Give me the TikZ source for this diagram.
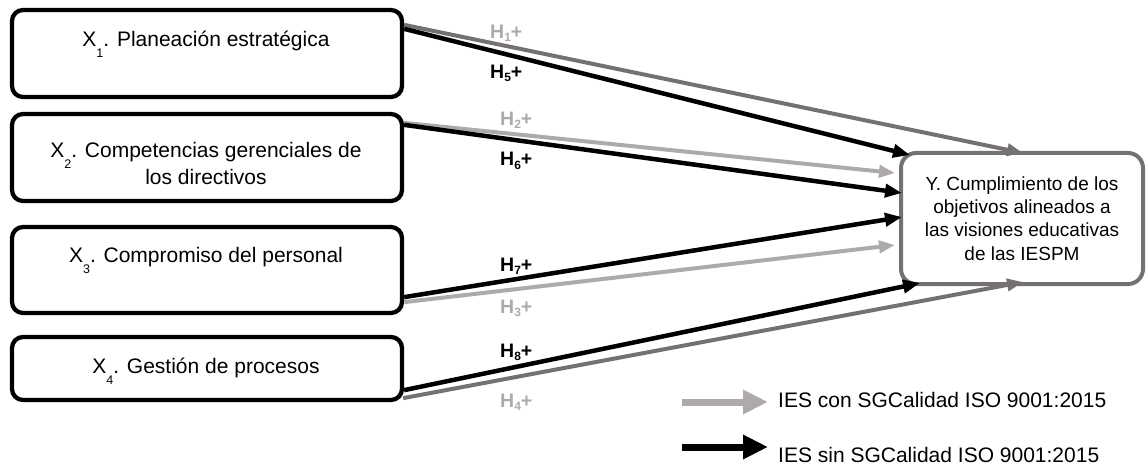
\documentclass[tikz,border=0pt]{standalone}
\usepackage{fontspec}
\setmainfont{Liberation Sans}
\usetikzlibrary{arrows.meta,calc}

\definecolor{darkgr}{HTML}{767171}
\definecolor{lightgr}{HTML}{AEAAAA}

% small lowered index after X
\newcommand\xidx[1]{\raisebox{-11pt}{\fontsize{12.5}{12.5}\selectfont #1}}
% hypothesis label index
\newcommand\hidx[1]{\raisebox{-3pt}{\fontsize{12}{12}\selectfont #1}}

\tikzset{
  xbox/.style={draw=black, line width=4.3pt, rounded corners=11pt, fill=white,
    minimum width=390pt, inner sep=0pt},
  ybox/.style={draw=darkgr, line width=4pt, rounded corners=15pt, fill=white,
    minimum width=242pt, minimum height=131pt, inner sep=0pt,
    align=center, font=\fontsize{19}{23.3}\selectfont},
  btxt/.style={font=\fontsize{21}{27}\selectfont, align=center, inner sep=0pt, anchor=base},
  hlab/.style={font=\bfseries\fontsize{19.5}{19.5}\selectfont, inner sep=0pt, anchor=base west},
  hlight/.style={hlab, text=lightgr},
  hdark/.style={hlab, text=black},
  blkarr/.style={draw=black, line width=4.5pt, -{Triangle[length=17pt,width=13pt]}},
  lgtarr/.style={draw=lightgr, line width=4pt, -{Triangle[length=16pt,width=12pt]}},
  drkarr/.style={draw=darkgr, line width=4pt, -{Triangle[length=16pt,width=12pt]}},
  legtxt/.style={font=\fontsize{21}{21}\selectfont, inner sep=0pt, anchor=base west},
}

\begin{document}
\begin{tikzpicture}[x=1pt,y=-1pt]
\useasboundingbox (0,0) rectangle (1146,468);

% predictor boxes
\node[xbox, minimum height=87pt] (b1) at (207,53.5) {};
\node[xbox, minimum height=87pt] (b2) at (207,157.5) {};
\node[xbox, minimum height=86pt] (b3) at (207,270) {};
\node[xbox, minimum height=63pt] (b4) at (207,368.5) {};

\node[btxt] (t1) at (206,47) {X\xidx{1}. Planeación estratégica};
\node[btxt] (t2) at (206,184) {X\xidx{2}. Competencias gerenciales de\\los directivos};
\node[btxt] (t3) at (206,262) {X\xidx{3}. Compromiso del personal};
\node[btxt] (t4) at (206,373) {X\xidx{4}. Gestión de procesos};

% outcome box
\node[ybox] (y) at (1022,218.5) {Y. Cumplimiento de los\\objetivos alineados a\\las visiones educativas\\de las IESPM};

% paths with quality system (grey)
\draw[drkarr] ($(b1.north east)+(0,17)$) -- ($(y.north)+(1,2)$);
\draw[lgtarr] ($(b2.north east)+(0,11)$) -- ($(y.north west)+(-4,22)$);
\draw[lgtarr] ($(b3.south east)+(0,-13)$) -- ($(y.north west)+(-4,94)$);
\draw[drkarr] ($(b4.south east)+(-1,-4)$) -- ($(y.south)+(1,-4)$);

% paths without quality system (black)
\draw[blkarr] ($(b1.north east)+(0,21)$) -- ($(y.north west)+(11,4)$);
\draw[blkarr] ($(b2.north east)+(0,13)$) -- ($(y.north west)+(3,42)$);
\draw[blkarr] ($(b3.south east)+(0,-18)$) -- ($(y.north west)+(3,66)$);
\draw[blkarr] ($(b4.south east)+(0,-12)$) -- ($(y.south west)+(21,-3)$);

% hypothesis labels
\node[hlight] (h1) at (490,39) {H\hidx{1}+};
\node[hdark]  (h5) at (490,79) {H\hidx{5}+};
\node[hlight] (h2) at (500,126) {H\hidx{2}+};
\node[hdark]  (h6) at (500,166) {H\hidx{6}+};
\node[hdark]  (h7) at (500,271) {H\hidx{7}+};
\node[hlight] (h3) at (500,313) {H\hidx{3}+};
\node[hdark]  (h8) at (500,357) {H\hidx{8}+};
\node[hlight] (h4) at (500,407) {H\hidx{4}+};

% legend
\coordinate (g0) at (682,402);
\coordinate (g1) at (768,402);
\coordinate (k0) at (682,447);
\coordinate (k1) at (768,447);
\draw[draw=lightgr, line width=7pt, -{Triangle[length=25pt,width=23pt]}] (g0) -- (g1);
\draw[draw=black, line width=7pt, -{Triangle[length=25pt,width=23pt]}] (k0) -- (k1);
\node[legtxt] (lg) at (778,407) {IES con SGCalidad ISO 9001:2015};
\node[legtxt] (lk) at (778,462) {IES sin SGCalidad ISO 9001:2015};
\end{tikzpicture}
\end{document}
